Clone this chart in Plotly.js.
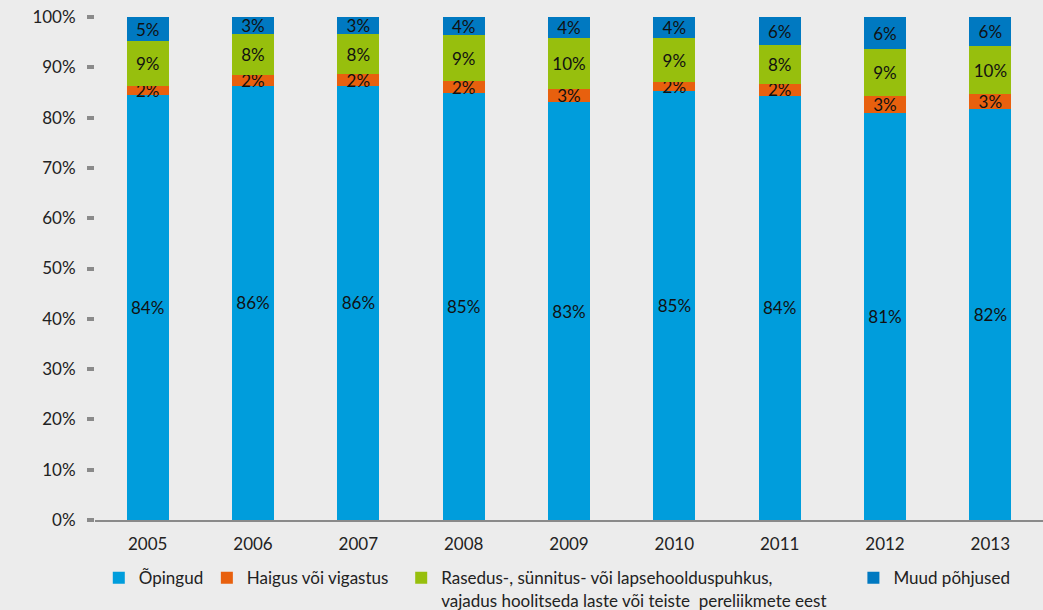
<!DOCTYPE html>
<html>
<head>
<meta charset="utf-8">
<script src="https://cdn.plot.ly/plotly-3.0.1.min.js"></script>
<style>html,body{margin:0;padding:0;background:#ececec;}#chart{width:1043px;height:610px;}</style>
</head>
<body>
<div id="chart"></div>
<script>
var years = ['2005','2006','2007','2008','2009','2010','2011','2012','2013'];
var opingud = [84.4, 86.3, 86.3, 84.8, 83.1, 85.2, 84.3, 81.0, 81.8];
var haigus  = [1.9, 2.1, 2.3, 2.4, 2.6, 1.8, 2.4, 3.2, 2.8];
var rasedus = [8.9, 8.2, 8.0, 9.2, 10.2, 8.8, 7.7, 9.4, 9.6];
var muud    = [4.8, 3.4, 3.4, 3.6, 4.1, 4.2, 5.6, 6.4, 5.8];
var names = ['Õpingud', 'Haigus või vigastus',
  'Rasedus-, sünnitus- või lapsehoolduspuhkus,<br>vajadus hoolitseda laste või teiste  pereliikmete eest',
  'Muud põhjused'];
var colors = ['#009ddc', '#e8600e', '#97bf0d', '#0079c1'];
var yTicks = [0,10,20,30,40,50,60,70,80,90,100];
var yTickText = yTicks.map(function(v){return v + '%';});

var FONT = 'Lato, "Open Sans", sans-serif';
var series = [opingud, haigus, rasedus, muud];
var legendIds = ['legend', 'legend2', 'legend3', 'legend4'];
var traces = series.map(function(vals, i){
  return {
    type: 'bar', x: years, y: vals, name: names[i],
    marker: {color: colors[i], line: {width: 0}},
    texttemplate: '%{y:.0f}%', textposition: 'inside', insidetextanchor: 'middle',
    constraintext: 'none', textangle: 0,
    textfont: {family: FONT, size: 17, color: '#111'},
    hoverinfo: 'skip', legend: legendIds[i]
  };
});

function leg(x){
  return {orientation: 'h', x: x, xanchor: 'left', y: -0.08, yanchor: 'top',
    bgcolor: 'rgba(0,0,0,0)', valign: 'top',
    font: {family: FONT, size: 17, color: '#222'}};
}

var layout = {
  width: 1043, height: 610,
  margin: {l: 95, r: 0, t: 17, b: 90, autoexpand: false},
  paper_bgcolor: '#ececec', plot_bgcolor: '#ececec',
  barmode: 'stack', bargap: 0.6,
  showlegend: true,
  legend: leg(0.004), legend2: leg(0.118), legend3: leg(0.323), legend4: leg(0.80),
  xaxis: {
    type: 'category', showline: true, linecolor: '#8a8a8a', linewidth: 2,
    ticks: '', showgrid: false, zeroline: false,
    tickfont: {family: FONT, size: 17, color: '#222'}, ticklabelstandoff: 8
  },
  yaxis: {
    range: [0, 100], tickvals: yTicks, ticktext: yTickText,
    ticks: 'outside', ticklen: 7, tickwidth: 4, tickcolor: '#8a8a8a',
    showline: false, showgrid: false, zeroline: false,
    tickfont: {family: FONT, size: 17, color: '#222'}, ticklabelstandoff: 8
  },
  font: {family: FONT}
};

Plotly.newPlot('chart', traces, layout, {displayModeBar: false, staticPlot: true});
</script>
</body>
</html>
